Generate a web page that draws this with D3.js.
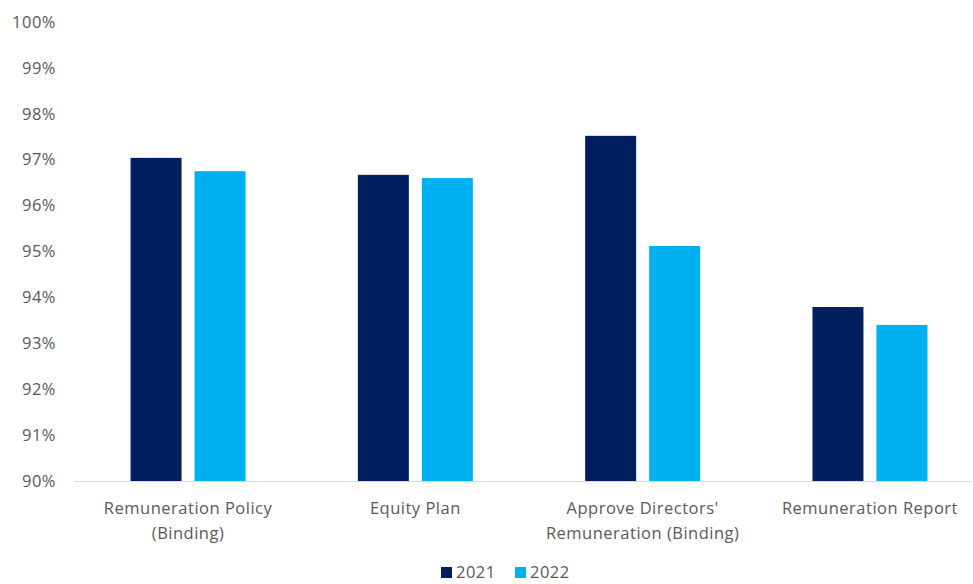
<!DOCTYPE html>
<html><head><meta charset="utf-8">
<script src="https://cdn.jsdelivr.net/npm/d3@7"></script>
<style>body{margin:0;background:#fff;} text{font-family:"Open Sans",Lato,sans-serif;}</style>
</head><body>
<svg id="c" width="973" height="584"></svg>
<script>
const categories = [["Remuneration Policy","(Binding)"],["Equity Plan"],["Approve Directors'","Remuneration (Binding)"],["Remuneration Report"]];
const series = ["2021","2022"];
const values2021 = [97.04, 96.67, 97.52, 93.79];
const values2022 = [96.75, 96.60, 95.12, 93.40];
const yTicks = [90,91,92,93,94,95,96,97,98,99,100];
const colors = ["#002060","#00B0F0"];

(function(){
const svg = d3.select("#c");
const pLeft = 74.4, pRight = 983.6, pTop = 22, pBottom = 481;
const x = d3.scaleBand().domain(d3.range(categories.length)).range([pLeft,pRight]).paddingInner(0).paddingOuter(0);
const y = d3.scaleLinear().domain([90,100]).range([pBottom,pTop]);
const barW = 51, gap = 13;
const fs = 16.5, ls = 0.5;

svg.append("g").selectAll("text").data(yTicks).join("text")
  .attr("x",56).attr("y",d=>y(d)).attr("dy","0.35em").attr("text-anchor","end")
  .attr("fill","#595959").attr("font-size",fs).attr("letter-spacing",ls).text(d=>d+"%");

svg.append("line").attr("x1",pLeft).attr("x2",971).attr("y1",pBottom+0.5).attr("y2",pBottom+0.5)
  .attr("stroke","#d9d9d9").attr("stroke-width",1);

const data = [values2021, values2022];
data.forEach((vals,si)=>{
  svg.append("g").selectAll("rect").data(vals).join("rect")
    .attr("x",(d,i)=>x(i)+x.bandwidth()/2 + (si===0 ? -(barW+gap/2) : gap/2))
    .attr("width",barW)
    .attr("y",d=>y(d)).attr("height",d=>pBottom-y(d))
    .attr("fill",colors[si]);
});

const xl = svg.append("g");
categories.forEach((lines,i)=>{
  lines.forEach((t,j)=>{
    xl.append("text").attr("x",x(i)+x.bandwidth()/2).attr("y",514+j*25)
      .attr("text-anchor","middle").attr("fill","#595959").attr("font-size",fs).attr("letter-spacing",ls).text(t);
  });
});

const lg = svg.append("g");
const lx = [441, 515];
series.forEach((s,i)=>{
  lg.append("rect").attr("x",lx[i]).attr("y",567).attr("width",11).attr("height",11).attr("fill",colors[i]);
  lg.append("text").attr("x",lx[i]+15).attr("y",578).attr("fill","#595959").attr("font-size",fs).attr("letter-spacing",ls).text(s);
});
})();
</script>
</body></html>
